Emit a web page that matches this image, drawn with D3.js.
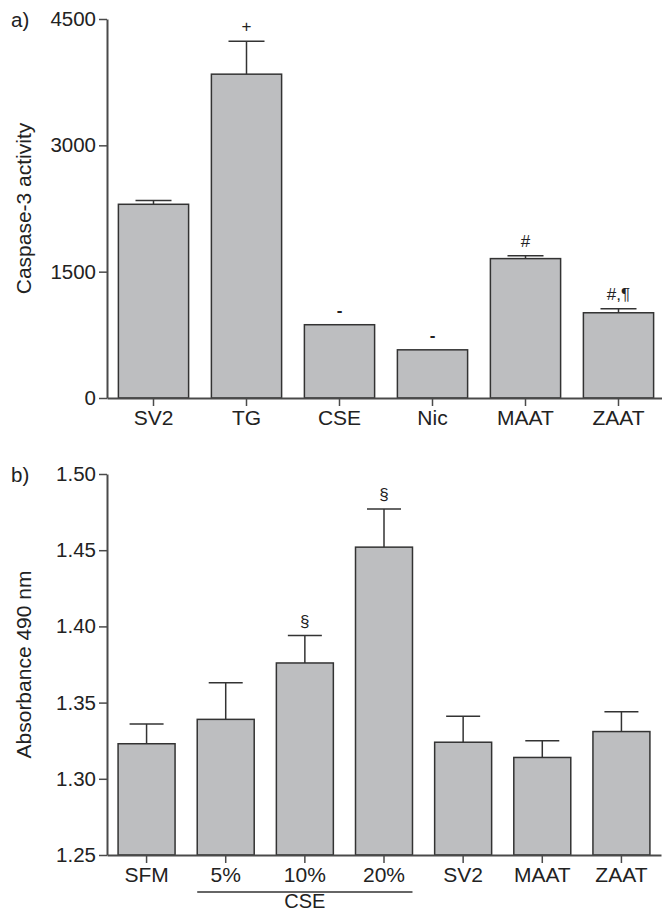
<!DOCTYPE html>
<html>
<head>
<meta charset="utf-8">
<script src="https://cdn.jsdelivr.net/npm/d3@7"></script>
<style>
  body { margin: 0; background: #fff; }
  text { font-family: "Liberation Sans", Arial, sans-serif; fill: #222; }
</style>
</head>
<body>
<div class="canvas"></div>
<script>
// panel a) caspase-3
const groupsA = ['SV2', 'TG', 'CSE', 'Nic', 'MAAT', 'ZAAT'];
const meansA = [2300, 3845, 870, 572, 1655, 1012];
const errA = [45, 390, 0, 0, 35, 48];
const marksA = ['', '+', '-', '-', '#', '#,¶'];
const ticksA = [0, 1500, 3000, 4500];

// panel b) absorbance
const groupsB = ['SFM', '5%', '10%', '20%', 'SV2', 'MAAT', 'ZAAT'];
const meansB = [1.323, 1.339, 1.376, 1.452, 1.324, 1.314, 1.331];
const errB = [0.013, 0.024, 0.018, 0.025, 0.017, 0.011, 0.013];
const marksB = ['', '', '§', '§', '', '', ''];
const ticksB = [1.25, 1.30, 1.35, 1.40, 1.45, 1.50];
const cseGroup = ['5%', '20%'];

const W = 662, H = 911;
const svg = d3.select('.canvas').append('svg')
    .attr('width', W)
    .attr('height', H);

const barFill = '#bdbec0', ink = '#333', axisCol = '#4a4a4a';

// draws one panel, returns x scale
const panel = (cfg) => {
    const g = svg.append('g');
    const x = d3.scaleBand().domain(cfg.groups).range(cfg.xr).paddingInner(cfg.pad).paddingOuter(cfg.pad / 2);
    const y = d3.scaleLinear().domain(cfg.dom).range(cfg.yr);
    const data = cfg.groups.map((k, i) => ({k, v: cfg.means[i], e: cfg.errs[i], m: cfg.marks[i]}));

    // error bars (upward only), behind the bars
    const cw = cfg.cap;
    data.filter(d => d.e > 0).forEach(d => {
        const cx = x(d.k) + x.bandwidth() / 2;
        g.append('line').attr('x1', cx).attr('x2', cx)
            .attr('y1', y(d.v)).attr('y2', y(d.v + d.e))
            .attr('stroke', ink).attr('stroke-width', 1.5);
        g.append('line').attr('x1', cx - cw / 2).attr('x2', cx + cw / 2)
            .attr('y1', y(d.v + d.e)).attr('y2', y(d.v + d.e))
            .attr('stroke', ink).attr('stroke-width', 1.5);
    });

    g.selectAll('rect.bar').data(data).enter().append('rect')
        .attr('class', 'bar')
        .attr('x', d => x(d.k))
        .attr('y', d => y(d.v))
        .attr('width', x.bandwidth())
        .attr('height', d => y(cfg.dom[0]) - y(d.v))
        .attr('fill', barFill)
        .attr('stroke', ink)
        .attr('stroke-width', 1.5);

    // significance marks
    g.selectAll('text.mark').data(data.filter(d => d.m)).enter().append('text')
        .attr('class', 'mark')
        .attr('x', d => x(d.k) + x.bandwidth() / 2)
        .attr('y', d => y(d.v + d.e) - 9)
        .attr('text-anchor', 'middle')
        .style('font-size', '17px')
        .style('font-weight', d => d.m === '-' ? 'bold' : 'normal')
        .text(d => d.m);

    // axes
    const yAx = g.append('g').attr('transform', `translate(${cfg.xr[0]},0)`)
        .call(d3.axisLeft(y).tickValues(cfg.ticks).tickFormat(cfg.fmt).tickSize(8).tickSizeOuter(0).tickPadding(3));
    const xAx = g.append('g').attr('transform', `translate(0,${cfg.yr[0]})`)
        .call(d3.axisBottom(x).tickSize(8).tickSizeOuter(0).tickPadding(4));
    [yAx, xAx].forEach(a => {
        a.select('.domain').attr('stroke', axisCol).attr('stroke-width', 2);
        a.selectAll('.tick line').attr('stroke', axisCol).attr('stroke-width', 1.5);
        a.selectAll('text').attr('fill', '#222').style('font-family', '"Liberation Sans", Arial, sans-serif');
    });
    yAx.selectAll('text').style('font-size', '20.5px');
    xAx.selectAll('text').style('font-size', '21px');

    // panel letter and y title
    g.append('text').attr('x', 11).attr('y', cfg.yr[1] + 8)
        .style('font-size', '20.5px').text(cfg.letter);
    g.append('text')
        .attr('transform', `translate(31,${(cfg.yr[0] + cfg.yr[1]) / 2}) rotate(-90)`)
        .attr('text-anchor', 'middle')
        .style('font-size', '21px')
        .text(cfg.title);
    return x;
};

panel({groups: groupsA, means: meansA, errs: errA, marks: marksA, ticks: ticksA,
    dom: [0, 4500], xr: [107, 665], yr: [398, 19], pad: 0.245, cap: 36,
    fmt: d3.format('d'), letter: 'a)', title: 'Caspase-3 activity'});

const xB = panel({groups: groupsB, means: meansB, errs: errB, marks: marksB, ticks: ticksB,
    dom: [1.25, 1.50], xr: [107, 661], yr: [855, 474], pad: 0.28, cap: 34,
    fmt: d3.format('.2f'), letter: 'b)', title: 'Absorbance 490 nm'});

// CSE bracket under the concentration labels
const x0 = xB(cseGroup[0]), x1 = xB(cseGroup[1]) + xB.bandwidth();
svg.append('line').attr('x1', x0).attr('x2', x1).attr('y1', 892).attr('y2', 892)
    .attr('stroke', ink).attr('stroke-width', 1.5);
svg.append('text').attr('x', (x0 + x1) / 2).attr('y', 908)
    .attr('text-anchor', 'middle').style('font-size', '20px').text('CSE');
</script>
</body>
</html>
